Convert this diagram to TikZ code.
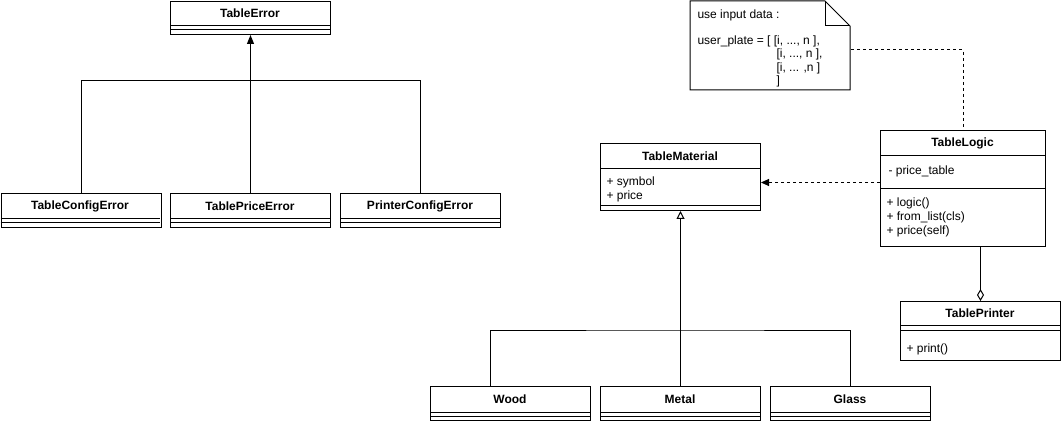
\documentclass[tikz,border=0pt]{standalone}
\usepackage{fontspec}
\setmainfont{Liberation Sans}
\usetikzlibrary{arrows.meta}

\begin{document}
\begin{tikzpicture}[x=1pt, y=-1pt, line width=1pt, font=\fontsize{12}{14}\selectfont,
    cls/.style={draw, minimum width=160pt, inner sep=0pt, anchor=north west},
    ttl/.style={font=\fontsize{12}{14}\selectfont\bfseries},
    attr/.style={anchor=west, inner sep=0pt},
    dep/.style={dash pattern=on 3pt off 3pt}]
            \useasboundingbox (0,0) rectangle (1061,422);

            % Error classes
            \node[cls, minimum height=33pt] (err) at (170,1) {};
            \draw (170,26) -- (330,26);
            \draw (170,30) -- (330,30);
            \node[ttl] at (250,13.5) {TableError};

            \node[cls, minimum height=34pt] (tce) at (0.5,193) {};
            \node[cls, minimum height=34pt] (tpe) at (170,193) {};
            \node[cls, minimum height=34pt] (pce) at (340,193) {};
            \draw (0.5,219) -- (160,219) (0.5,223) -- (160,223);
            \draw (170,219) -- (330,219) (170,223) -- (330,223);
            \draw (340,219) -- (500,219) (340,223) -- (500,223);
            \node[ttl] at (80,206) {TableConfigError};
            \node[ttl] at (250,206) {TablePriceError};
            \node[ttl] at (420,206) {PrinterConfigError};

            % Inheritance of errors
            \coordinate (errbus) at (250,80.5);
            \draw (tce.north) |- (errbus) -| (pce.north);
            \draw[-{Triangle[length=9pt,width=7pt]}] (tpe.north) -- (err.south);

            % Note on input data
            \node[minimum width=160pt, minimum height=89pt, inner sep=0pt, anchor=north west] (note) at (690,1) {};
            \draw (690,1) -- (825,1) -- (850,26) -- (850,90) -- (690,90) -- cycle;
            \draw (825,1) -- (825,26) -- (850,26);
            \node[attr] at (697,15) {use input data :};
            \node[attr] at (697,41) {user\_plate = [ [i, ..., n ],};
            \node[attr] at (776,54.5) {[i, ..., n ],};
            \node[attr] at (776,68) {[i, ... ,n ]};
            \node[attr] at (776,81.5) {]};

            % TableLogic
            \node[cls, minimum width=165pt, minimum height=116pt] (logic) at (880,130) {};
            \draw (880,156) -- (1045,156);
            \draw (880,189) -- (1045,189);
            \node[ttl] at (962.5,143) {TableLogic};
            \node[attr] at (888,171) {- price\_table};
            \node[attr] at (886,203) {+ logic()};
            \node[attr] at (886,217) {+ from\_list(cls)};
            \node[attr] at (886,231) {+ price(self)};

            \coordinate (bend) at (logic.north |- 0,50);
            \draw[dep] (note.east |- bend) -- (bend) -- (logic.north);

            % TableMaterial
            \node[cls, minimum height=67pt] (mat) at (600,143) {};
            \draw (600,169) -- (760,169);
            \draw (600,206) -- (760,206);
            \node[ttl] at (680,156) {TableMaterial};
            \node[attr] at (606,182) {+ symbol};
            \node[attr] at (606,196) {+ price};

            \draw[dep, -{Triangle[length=8pt,width=7pt]}] ([yshift=6pt]logic.west) -- ([yshift=6pt]logic.west -| mat.east);

            % TablePrinter
            \node[cls, minimum height=59pt] (printer) at (900,301) {};
            \draw (900,326) -- (1060,326);
            \draw (900,330) -- (1060,330);
            \node[ttl] at (980,313.5) {TablePrinter};
            \node[attr] at (906,349) {+ print()};

            \draw[-{Diamond[open,length=12pt,width=7pt]}] (logic.south -| printer.north) -- (printer.north);

            % Materials
            \node[cls, minimum height=34pt] (wood) at (430,386) {};
            \node[cls, minimum height=34pt] (metal) at (600,386) {};
            \node[cls, minimum height=34pt] (glass) at (770,386) {};
            \draw (430,412) -- (590,412) (430,416) -- (590,416);
            \draw (600,412) -- (760,412) (600,416) -- (760,416);
            \draw (770,412) -- (930,412) (770,416) -- (930,416);
            \node[ttl] at (510,399) {Wood};
            \node[ttl] at (680,399) {Metal};
            \node[ttl] at (850,399) {Glass};

            \coordinate (matbus) at (680,330);
            \draw ([xshift=-20pt]wood.north) |- (matbus) -| (glass.north);
            \draw[-{Triangle[open,length=8pt,width=8pt]}] (metal.north) -- (mat.south);
\end{tikzpicture}
\end{document}
